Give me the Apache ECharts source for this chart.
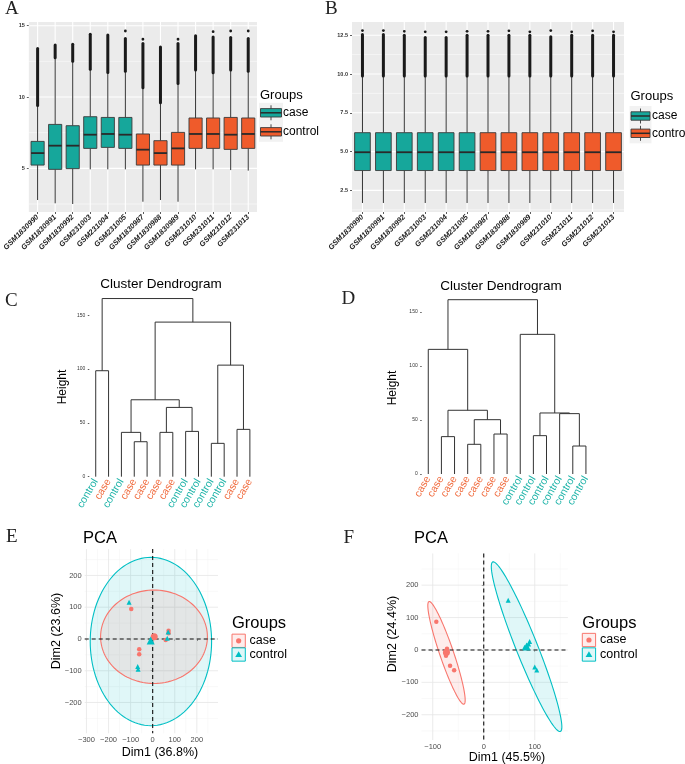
<!DOCTYPE html>
<html><head><meta charset="utf-8">
<script src="https://cdn.jsdelivr.net/npm/echarts@6/dist/echarts.min.js"></script>
<style>html,body{margin:0;padding:0;background:#fff}#c{width:685px;height:764px}</style>
</head><body><div id="c"></div>
<script>
// ---------- DATA ----------
const samples = ['GSM1830990','GSM1830991','GSM1830992','GSM231003','GSM231004','GSM231005','GSM1830987','GSM1830988','GSM1830989','GSM231010','GSM231011','GSM231012','GSM231013'];
const sampleGroup = ['case','case','case','case','case','case','control','control','control','control','control','control','control'];
// [lowWhisker, Q1, median, Q3, highWhisker, outlierMax]
const boxA = [
  [2.78, 5.23, 6.07, 6.89, 9.4, 13.4],
  [2.55, 4.93, 6.59, 8.08, 12.75, 13.65],
  [2.50, 4.98, 6.59, 7.99, 12.5, 13.7],
  [4.93, 6.40, 7.36, 8.62, 11.95, 14.4],
  [4.93, 6.47, 7.41, 8.57, 11.72, 14.35],
  [4.93, 6.40, 7.36, 8.57, 11.8, 14.1],
  [2.66, 5.23, 6.31, 7.41, 10.65, 13.75],
  [2.78, 5.23, 6.07, 6.94, 9.6, 13.5],
  [2.66, 5.23, 6.40, 7.52, 10.95, 13.75],
  [4.93, 6.40, 7.41, 8.53, 11.9, 14.3],
  [4.93, 6.40, 7.41, 8.53, 11.7, 14.2],
  [4.88, 6.33, 7.36, 8.57, 11.9, 14.18],
  [4.84, 6.40, 7.41, 8.53, 11.8, 14.1]
];
const dotsA = [null, null, null, null, null, 14.63, 14.05, null, 14.05, null, 14.58, 14.63, 14.63];
const boxB = [
  [1.69, 3.78, 4.96, 6.22, 9.87, 12.55],
  [1.69, 3.78, 4.96, 6.22, 9.87, 12.55],
  [1.69, 3.78, 4.96, 6.22, 9.87, 12.5],
  [1.69, 3.78, 4.96, 6.22, 9.87, 12.35],
  [1.69, 3.78, 4.96, 6.22, 9.87, 12.35],
  [1.69, 3.78, 4.96, 6.22, 9.87, 12.5],
  [1.69, 3.78, 4.96, 6.22, 9.87, 12.5],
  [1.69, 3.78, 4.96, 6.22, 9.87, 12.5],
  [1.69, 3.78, 4.96, 6.22, 9.87, 12.5],
  [1.69, 3.78, 4.96, 6.22, 9.87, 12.4],
  [1.69, 3.78, 4.96, 6.22, 9.87, 12.5],
  [1.69, 3.78, 4.96, 6.22, 9.87, 12.5],
  [1.69, 3.78, 4.96, 6.22, 9.87, 12.5]
];
const dotsB = [12.8, 12.8, 12.75, 12.72, 12.72, 12.75, 12.75, 12.78, 12.72, 12.8, 12.72, 12.78, 12.72];
const yTicksA = [5, 10, 15];
const yMinorA = [2.5, 7.5, 12.5];
const yTicksB = [2.5, 5, 7.5, 10, 12.5];
const yMinorB = [1.25, 3.75, 6.25, 8.75, 11.25];

const leavesC = ['control','case','control','case','case','case','case','control','control','control','control','case','case'];
const mergesC = [[-10,-11],[-4,-5],[-3,2],[-6,-7],[-8,-9],[-12,-13],[4,5],[3,7],[-1,-2],[1,6],[8,10],[9,11]];
const heightsC = [31, 32.5, 41.2, 41.2, 42.1, 44, 64.4, 71.5, 98.5, 103.7, 143.7, 165.6];
const leavesD = ['case','case','case','case','case','case','case','control','control','control','control','control','control'];
const mergesD = [[-12,-13],[-4,-5],[-2,-3],[-9,-10],[-6,-7],[2,5],[-11,1],[4,7],[3,6],[-1,9],[-8,8],[10,11]];
const heightsD = [25.9, 27.5, 34.6, 35.5, 37, 50.3, 55.9, 56.5, 59, 115.4, 129.3, 161.4];
const dendroTicks = [0, 50, 100, 150];

const caseE = [[-97,94],[72,26],[72,18],[59,-3],[-61,-32],[-61,-48]];
const controlE = [[-107,116],[-68,-87],[-66,-95],[66,2],[70,22]];
const meanCaseE = [[7,7]];
const meanControlE = [[-9,-5]];
// [cx, cy, semiMajor, semiMinor, angleDeg]
const ellCaseE = [6, 7, 242, 147, 0];
const ellControlE = [-8, -8, 275, 265, 0];
const xTicksE = [-300,-200,-100,0,100,200];
const xMinorE = [-250,-150,-50,50,150,250];
const yTicksE = [-200,-100,0,100,200];
const yMinorE = [-250,-150,-50,50,150,250];

const caseF = [[-93,87],[-72,4],[-73,-3],[-75,-10],[-74,-18],[-66,-49],[-58,-63]];
const controlF = [[48,153],[80,8],[85,12],[90,26],[88,18],[100,-53],[104,-62]];
const meanCaseF = [[-73,-7]];
const meanControlF = [[84,11]];
const ellCaseF = [-73, -9, 162, 14, -77.9];
const ellControlF = [84, 10, 270, 22, -75.9];
const xTicksF = [-100, 0, 100];
const xMinorF = [-50, 50, 150];
const yTicksF = [-200,-100,0,100,200];
const yMinorF = [-250,-150,-50,50,150,250];

// ---------- STYLE ----------
const FONT = '"Liberation Sans", Arial, Helvetica, sans-serif';
const NARROW = '"Liberation Sans Narrow", "Arial Narrow", "Liberation Sans", sans-serif';
const SERIF = '"Liberation Serif", "Times New Roman", serif';
const BOXCOL = {case: '#16A79B', control: '#EF5B2B'};
const DENDCOL = {case: '#F06A3C', control: '#1DB3A8'};
const PCACOL = {case: '#F8766D', control: '#00BFC4'};
const PCAFILL = {case: 'rgba(248,118,109,0.13)', control: 'rgba(0,191,196,0.12)'};

function lineSeries(xi, yi, dir, vals, ref, style, z) {
  return {
    type: 'custom', xAxisIndex: xi, yAxisIndex: yi, silent: true, z: z, clip: false,
    data: vals.map(v => dir === 'h' ? [ref, v] : [v, ref]),
    renderItem: (params, api) => {
      const cs = params.coordSys;
      let shape;
      if (dir === 'h') {
        const y = api.coord([api.value(0), api.value(1)])[1];
        shape = {x1: cs.x, y1: y, x2: cs.x + cs.width, y2: y};
      } else {
        const x = api.coord([api.value(0), api.value(1)])[0];
        shape = {x1: x, y1: cs.y, x2: x, y2: cs.y + cs.height};
      }
      return {type: 'line', shape: shape, style: Object.assign({fill: null}, style)};
    }
  };
}

function boxSeries(xi, yi, boxes, dots) {
  return {
    type: 'custom', xAxisIndex: xi, yAxisIndex: yi, z: 3, silent: true,
    data: boxes.map((b, i) => [i].concat(b)),
    renderItem: (params, api) => {
      const i = api.value(0);
      const bw = api.size([1, 0])[0] * 0.75;
      const x = api.coord([i, 5])[0];
      const Y = v => api.coord([i, v])[1];
      const lo = api.value(1), q1 = api.value(2), md = api.value(3), q3 = api.value(4), hi = api.value(5), om = api.value(6);
      const col = BOXCOL[sampleGroup[params.dataIndex]];
      const ch = [
        {type: 'line', shape: {x1: x, y1: Y(lo), x2: x, y2: Y(q1)}, style: {stroke: '#333', lineWidth: 1}},
        {type: 'line', shape: {x1: x, y1: Y(q3), x2: x, y2: Y(hi)}, style: {stroke: '#333', lineWidth: 1}},
        {type: 'line', shape: {x1: x, y1: Y(hi), x2: x, y2: Y(om)}, style: {stroke: '#1a1a1a', lineWidth: 3, lineCap: 'round'}},
        {type: 'rect', shape: {x: x - bw / 2, y: Y(q3), width: bw, height: Y(q1) - Y(q3)}, style: {fill: col, stroke: '#3a3a3a', lineWidth: 0.9}},
        {type: 'line', shape: {x1: x - bw / 2, y1: Y(md), x2: x + bw / 2, y2: Y(md)}, style: {stroke: '#2a2a2a', lineWidth: 1.8}}
      ];
      const d = dots[params.dataIndex];
      if (d != null) ch.push({type: 'circle', shape: {cx: x, cy: Y(d), r: 1.4}, style: {fill: '#1a1a1a'}});
      return {type: 'group', children: ch};
    }
  };
}

function dendroSegs(merges, heights) {
  const nx = [], nh = [], segs = [];
  const pos = m => m < 0 ? [-m, 0] : [nx[m - 1], nh[m - 1]];
  merges.forEach((m, k) => {
    const l = pos(m[0]), r = pos(m[1]);
    nx[k] = (l[0] + r[0]) / 2; nh[k] = heights[k];
    segs.push([l[0], l[1], r[0], r[1], heights[k]]);
  });
  return segs;
}
function dendroSeries(xi, yi, merges, heights) {
  return {
    type: 'custom', xAxisIndex: xi, yAxisIndex: yi, silent: true, z: 3,
    data: dendroSegs(merges, heights),
    renderItem: (params, api) => {
      const xl = api.value(0), hl = api.value(1), xr = api.value(2), hr = api.value(3), h = api.value(4);
      return {type: 'polyline', shape: {points: [api.coord([xl, hl]), api.coord([xl, h]), api.coord([xr, h]), api.coord([xr, hr])]},
        style: {stroke: '#333', lineWidth: 1, fill: null}};
    }
  };
}

function ellipseSeries(xi, yi, ell, group, z) {
  return {
    type: 'custom', xAxisIndex: xi, yAxisIndex: yi, silent: true, z: z,
    data: [ell],
    renderItem: (params, api) => {
      const cx = api.value(0), cy = api.value(1), a = api.value(2), b = api.value(3), ang = api.value(4) * Math.PI / 180;
      const pts = [];
      for (let k = 0; k < 120; k++) {
        const t = k / 120 * 2 * Math.PI;
        const u = a * Math.cos(t), v = b * Math.sin(t);
        pts.push(api.coord([cx + u * Math.cos(ang) - v * Math.sin(ang), cy + u * Math.sin(ang) + v * Math.cos(ang)]));
      }
      return {type: 'polygon', shape: {points: pts}, style: {fill: PCAFILL[group], stroke: PCACOL[group], lineWidth: 1.1}};
    }
  };
}

function scatter(xi, yi, data, group, size) {
  return {type: 'scatter', xAxisIndex: xi, yAxisIndex: yi, data: data, z: 5, silent: true,
    symbol: group === 'case' ? 'circle' : 'triangle', symbolSize: size,
    itemStyle: {color: PCACOL[group], opacity: 1}};
}

const minus = v => String(v).replace('-', '\u2212');

function catAxis(gi, rot, opts) {
  return Object.assign({type: 'category', gridIndex: gi, data: samples, boundaryGap: true,
    axisLine: {show: false}, splitLine: {show: false},
    axisTick: {show: true, alignWithLabel: true, length: 2, lineStyle: {color: '#333', width: 0.8}},
    axisLabel: {interval: 0, rotate: rot, fontSize: 7.5, fontWeight: 'bold', fontStyle: 'italic', color: '#1a1a1a', margin: 4, fontFamily: FONT}}, opts || {});
}
function valAxis(gi, min, max, ticks, fmt, opts) {
  return Object.assign({type: 'value', gridIndex: gi, min: min, max: max,
    axisLine: {show: false}, splitLine: {show: false}, minorSplitLine: {show: false},
    axisTick: {show: true, length: 2, customValues: ticks, lineStyle: {color: '#333', width: 0.8}},
    axisLabel: {customValues: ticks, formatter: fmt, fontSize: 7.5, color: '#4D4D4D', margin: 3, fontFamily: FONT}}, opts || {});
}

// ---------- OPTION ----------
const xAxis = [
  catAxis(0, 45),
  catAxis(1, 45),
  {type: 'category', gridIndex: 2, data: leavesC, boundaryGap: true, axisLine: {show: false}, axisTick: {show: false},
    axisLabel: {interval: 0, rotate: 60, fontSize: 10.5, margin: 3, fontFamily: FONT, color: (v, i) => DENDCOL[leavesC[i]]}},
  {type: 'value', gridIndex: 2, min: 0.5, max: 13.5, show: false},
  {type: 'category', gridIndex: 3, data: leavesD, boundaryGap: true, axisLine: {show: false}, axisTick: {show: false},
    axisLabel: {interval: 0, rotate: 60, fontSize: 10.5, margin: 3, fontFamily: FONT, color: (v, i) => DENDCOL[leavesD[i]]}},
  {type: 'value', gridIndex: 3, min: 0.5, max: 13.5, show: false},
  valAxis(4, -308, 296, xTicksE, minus),
  valAxis(5, -122, 165, xTicksF, minus)
];
const smallBold = {fontSize: 5.5, fontWeight: 'bold', color: '#333', margin: 4};
const yAxis = [
  valAxis(0, 1.94, 15.26, yTicksA, v => String(v)),
  valAxis(1, 1.11, 13.35, yTicksB, v => v.toFixed(1)),
  valAxis(2, 0, 170, dendroTicks, v => String(v)),
  valAxis(3, 0, 170, dendroTicks, v => String(v)),
  valAxis(4, -297, 283, yTicksE, minus),
  valAxis(5, -278, 298, yTicksF, minus)
];
Object.assign(yAxis[0].axisLabel, smallBold);
Object.assign(yAxis[1].axisLabel, smallBold);
Object.assign(yAxis[2].axisLabel, {fontSize: 5, color: '#333', margin: 4});
Object.assign(yAxis[3].axisLabel, {fontSize: 5, color: '#333', margin: 4});
yAxis[2].axisTick.length = 1.5; yAxis[3].axisTick.length = 1.5;

const grid = [
  {left: 27, top: 22, width: 230, height: 190, show: true, backgroundColor: '#EBEBEB', borderWidth: 0},
  {left: 352, top: 22, width: 272, height: 190, show: true, backgroundColor: '#EBEBEB', borderWidth: 0},
  {left: 89.3, top: 293.8, width: 167, height: 182.9},
  {left: 421.7, top: 290.4, width: 170.8, height: 183.6},
  {left: 84.7, top: 549.1, width: 133.3, height: 184.2},
  {left: 421.5, top: 553.4, width: 146.4, height: 186.6}
];

const idx = samples.map((s, i) => i);
const WMAJ = {stroke: '#fff', lineWidth: 1.1};
const WMIN = {stroke: '#fff', lineWidth: 0.5};
const GMAJ = {stroke: '#E6E6E6', lineWidth: 0.8};
const GMIN = {stroke: '#F2F2F2', lineWidth: 0.5};
const DASH = {stroke: '#111', lineWidth: 1.1, lineDash: [4, 3]};

const series = [
  lineSeries(0, 0, 'h', yMinorA, 0, WMIN, 1),
  lineSeries(0, 0, 'h', yTicksA, 0, WMAJ, 1),
  lineSeries(0, 0, 'v', idx, 5, WMAJ, 1),
  boxSeries(0, 0, boxA, dotsA),
  lineSeries(1, 1, 'h', yMinorB, 0, WMIN, 1),
  lineSeries(1, 1, 'h', yTicksB, 0, WMAJ, 1),
  lineSeries(1, 1, 'v', idx, 5, WMAJ, 1),
  boxSeries(1, 1, boxB, dotsB),
  dendroSeries(3, 2, mergesC, heightsC),
  dendroSeries(5, 3, mergesD, heightsD),
  // E
  lineSeries(6, 4, 'v', xMinorE, 0, GMIN, 1),
  lineSeries(6, 4, 'h', yMinorE, 0, GMIN, 1),
  lineSeries(6, 4, 'v', xTicksE, 0, GMAJ, 1),
  lineSeries(6, 4, 'h', yTicksE, 0, GMAJ, 1),
  ellipseSeries(6, 4, ellControlE, 'control', 2),
  ellipseSeries(6, 4, ellCaseE, 'case', 2),
  lineSeries(6, 4, 'v', [0], 0, DASH, 3),
  lineSeries(6, 4, 'h', [0], 0, DASH, 3),
  scatter(6, 4, caseE, 'case', 4.5),
  scatter(6, 4, controlE, 'control', 5),
  scatter(6, 4, meanCaseE, 'case', 7),
  scatter(6, 4, meanControlE, 'control', 8),
  // F
  lineSeries(7, 5, 'v', xMinorF, 0, GMIN, 1),
  lineSeries(7, 5, 'h', yMinorF, 0, GMIN, 1),
  lineSeries(7, 5, 'v', xTicksF, 0, GMAJ, 1),
  lineSeries(7, 5, 'h', yTicksF, 0, GMAJ, 1),
  ellipseSeries(7, 5, ellControlF, 'control', 2),
  ellipseSeries(7, 5, ellCaseF, 'case', 2),
  lineSeries(7, 5, 'v', [0], 0, DASH, 3),
  lineSeries(7, 5, 'h', [0], 0, DASH, 3),
  scatter(7, 5, caseF, 'case', 4.5),
  scatter(7, 5, controlF, 'control', 5),
  scatter(7, 5, meanCaseF, 'case', 7),
  scatter(7, 5, meanControlF, 'control', 8)
];

// ---------- GRAPHIC (titles, legends, letters) ----------
const G = [];
function txt(text, x, y, size, opts) {
  G.push(Object.assign({type: 'text', x: x, y: y, silent: true,
    style: Object.assign({text: text, x: 0, y: 0, fontSize: size, fontFamily: FONT, fill: '#000', align: 'left', verticalAlign: 'middle'}, (opts && opts.style) || {})},
    (opts && opts.el) || {}));
}
// letters
[['A', 5, 9], ['B', 325, 9.5], ['C', 5, 301.5], ['D', 341.5, 299], ['E', 6, 537.5], ['F', 343.5, 538]].forEach(l =>
  txt(l[0], l[1], l[2], 19, {style: {fontFamily: SERIF, fill: '#222'}}));
// boxplot legends
function boxLegend(x0, yTitle, yKeys, kw, tx) {
  txt('Groups', x0, yTitle, 13);
  G.push({type: 'rect', silent: true, shape: {x: x0 - 1, y: yKeys[0] - 10, width: kw + 3, height: yKeys[1] - yKeys[0] + 20}, style: {fill: '#F2F2F2'}});
  ['case', 'control'].forEach((g, k) => {
    const cy = yKeys[k], cx = x0 + 0.5 + kw / 2;
    G.push({type: 'line', silent: true, shape: {x1: cx, y1: cy - 7.5, x2: cx, y2: cy + 7.5}, style: {stroke: '#333', lineWidth: 0.9}});
    G.push({type: 'rect', silent: true, shape: {x: cx - kw / 2, y: cy - 4.2, width: kw, height: 8.4}, style: {fill: BOXCOL[g], stroke: '#3a3a3a', lineWidth: 0.9}});
    G.push({type: 'line', silent: true, shape: {x1: cx - kw / 2, y1: cy, x2: cx + kw / 2, y2: cy}, style: {stroke: '#2a2a2a', lineWidth: 1.5}});
    txt(g, tx, cy, 12, {style: {fontFamily: NARROW}});
  });
}
boxLegend(260, 95, [112.8, 131.8], 21, 283);
boxLegend(630.5, 96, [116, 133.3], 19, 652);
// dendrogram titles
txt('Cluster Dendrogram', 161, 284, 13.5, {style: {align: 'center'}});
txt('Cluster Dendrogram', 501, 286.7, 13.5, {style: {align: 'center'}});
txt('Height', 63, 387, 12, {style: {align: 'center'}, el: {rotation: Math.PI / 2}});
txt('Height', 393, 388, 12, {style: {align: 'center'}, el: {rotation: Math.PI / 2}});
// PCA titles
txt('PCA', 83, 538, 16.5);
txt('PCA', 414, 538, 16.5);
txt('Dim1 (36.8%)', 160, 753, 12.5, {style: {align: 'center'}});
txt('Dim1 (45.5%)', 507, 757.5, 12.5, {style: {align: 'center'}});
txt('Dim2 (23.6%)', 57, 631, 12.5, {style: {align: 'center'}, el: {rotation: Math.PI / 2}});
txt('Dim2 (24.4%)', 393, 634, 12.5, {style: {align: 'center'}, el: {rotation: Math.PI / 2}});
// PCA legends
function pcaLegend(x0, yTitle, yKeys, tx) {
  txt('Groups', x0, yTitle, 16.5);
  ['case', 'control'].forEach((g, k) => {
    const cy = yKeys[k], s = 13.3, cx = x0 + s / 2;
    G.push({type: 'rect', silent: true, shape: {x: x0, y: cy - s / 2, width: s, height: s}, style: {fill: PCAFILL[g], stroke: PCACOL[g], lineWidth: 1}});
    if (g === 'case') G.push({type: 'circle', silent: true, shape: {cx: cx, cy: cy, r: 2.6}, style: {fill: PCACOL[g]}});
    else G.push({type: 'polygon', silent: true, shape: {points: [[cx, cy - 3.2], [cx + 3.4, cy + 2.6], [cx - 3.4, cy + 2.6]]}, style: {fill: PCACOL[g]}});
    txt(g, tx, cy, 12.5);
  });
}
pcaLegend(232, 623.3, [640.8, 654.5], 249.5);
pcaLegend(582.3, 623.3, [640, 654.5], 600);

const chart = echarts.init(document.getElementById('c'), null, {renderer: 'canvas'});
chart.setOption({animation: false, backgroundColor: '#fff', grid: grid, xAxis: xAxis, yAxis: yAxis, series: series, graphic: G});
</script>
</body></html>
